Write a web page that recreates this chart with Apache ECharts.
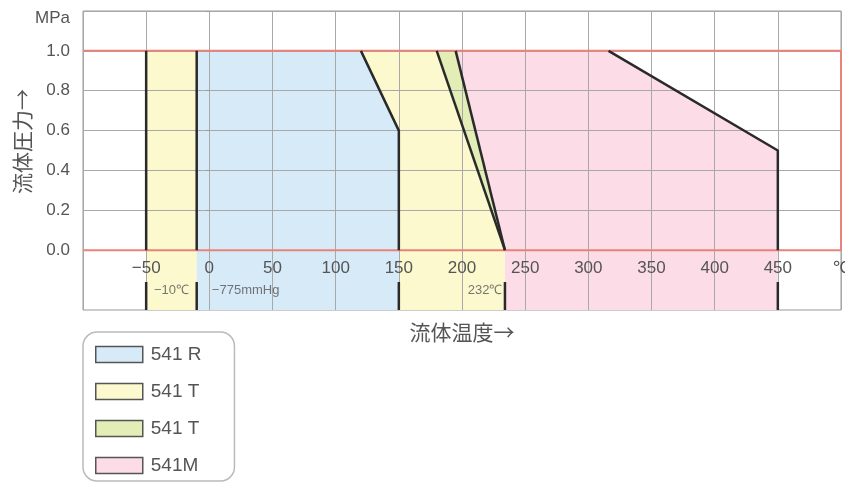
<!DOCTYPE html>
<html><head><meta charset="utf-8">
<script src="https://cdn.jsdelivr.net/npm/echarts@6/dist/echarts.min.js"></script>
<style>html,body{margin:0;padding:0;background:#fff}#c{width:845px;height:483px}</style>
</head><body><div id="c"></div>
<script>
// ---- data (temperature ℃, pressure MPa) ----
const pressureTicks = [0, 0.2, 0.4, 0.6, 0.8, 1.0, 1.2];
const tempRange = [-100, 500];
const tempStep = 50;
const legendNames = ['541 R', '541 T', '541 T (2)', '541M'];
const area541R  = [[-10, -0.3], [-10, 1.0], [120, 1.0], [150, 0.6], [150, -0.3]];
const area541T  = [[-50, -0.3], [-50, 1.0], [180, 1.0], [234, 0], [234, -0.3]];
const area541T2 = [[180, 1.0], [195, 1.0], [234, 0]];
const area541M  = [[195, 1.0], [316, 1.0], [450, 0.5], [450, -0.3], [234, -0.3], [234, 0]];
// boundary lines above 0 MPa
const edgeLines = [
  [[-50, 1.0], [-50, 0]],
  [[-10, 1.0], [-10, 0]],
  [[120, 1.0], [150, 0.6], [150, 0]],
  [[180, 1.0], [234, 0]],
  [[195, 1.0], [234, 0]],
  [[316, 1.0], [450, 0.5], [450, 0]]
];
// temperature limit marks below the axis labels
const limitTemps = [-50, -10, 150, 234, 450];
const markRange = [-0.16, -0.3];
const limitFrame = [[-100, 1.0], [500, 1.0], [500, 0], [-100, 0]];
const annotations = [
  { text: '−10℃', at: [-30, -0.2], align: 'center' },
  { text: '−775mmHg', at: [2, -0.2], align: 'left' },
  { text: '232℃', at: [232, -0.2], align: 'right' }
];

const chart = echarts.init(document.getElementById('c'));
const textColor = '#555';
const cjk = '"Noto Sans CJK JP", "Noto Sans", sans-serif';
const latin = '"Liberation Sans", Arial, sans-serif';

function polygonSeries(name, pts, color) {
  return {
    type: 'custom', name: name, z: 2, data: pts, encode: { x: 0, y: 1 },
    itemStyle: { color: color, borderColor: '#555', borderWidth: 1.5 },
    renderItem: function (params, api) {
      if (params.dataIndex !== 0) return;
      return {
        type: 'polygon',
        shape: { points: pts.map(function (p) { return api.coord(p); }) },
        style: { fill: color }
      };
    }
  };
}

const series = [
  polygonSeries(legendNames[1], area541T, '#fcf9cf'),
  polygonSeries(legendNames[0], area541R, '#d7eaf8'),
  polygonSeries(legendNames[2], area541T2, '#e3edb6'),
  polygonSeries(legendNames[3], area541M, '#fbdce7')
];
const blackLine = { color: '#2a2a2a', width: 2.5 };
edgeLines.forEach(function (ln) {
  series.push({ type: 'line', data: ln, z: 6, symbol: 'none', silent: true, lineStyle: blackLine });
});
limitTemps.forEach(function (t) {
  series.push({ type: 'line', data: [[t, markRange[0]], [t, markRange[1]]], z: 6, symbol: 'none',
    silent: true, lineStyle: blackLine });
});
series.push({ type: 'line', data: limitFrame, z: 5, symbol: 'none', silent: true,
  lineStyle: { color: '#e8837a', width: 2 } });
series.push({
  type: 'scatter', z: 7, symbolSize: 0, silent: true,
  data: annotations.map(function (a) {
    return { value: a.at, label: { formatter: a.text, align: a.align } };
  }),
  label: { show: true, position: 'inside', color: textColor, fontSize: 13, fontFamily: latin }
});

chart.setOption({
  backgroundColor: '#fff',
  animation: false,
  grid: { left: 83, right: 4, top: 11, bottom: 173, show: true, borderColor: '#999', borderWidth: 1,
          outerBoundsMode: 'none', containLabel: false },
  xAxis: {
    type: 'value', min: tempRange[0], max: tempRange[1], interval: tempStep, z: 3,
    position: 'bottom', offset: -60,
    axisLine: { show: false, onZero: false },
    axisTick: { show: false },
    splitLine: { show: true, lineStyle: { color: '#a8a8a8', width: 1 } },
    axisLabel: {
      margin: 10, color: textColor, fontSize: 17, fontFamily: latin,
      formatter: function (v) {
        if (v === tempRange[0]) return '';
        if (v === tempRange[1]) return '℃';
        return v < 0 ? '−' + (-v) : String(v);
      }
    },
    name: '流体温度→', nameLocation: 'middle', nameGap: 72,
    nameTextStyle: { color: textColor, fontSize: 21, fontFamily: cjk }
  },
  yAxis: {
    type: 'value', min: -0.3, max: 1.2, z: 3,
    axisLine: { show: false },
    axisTick: { show: true, length: 3, customValues: pressureTicks, lineStyle: { color: '#999' } },
    splitLine: { show: true, lineStyle: { color: '#a8a8a8', width: 1 } },
    axisLabel: {
      customValues: pressureTicks, margin: 13, color: textColor, fontSize: 17, fontFamily: latin,
      formatter: function (v) { return v >= 1.19 ? '{u|MPa}' : v.toFixed(1); },
      rich: { u: { padding: [15, 0, 0, 0], fontSize: 17, color: textColor, fontFamily: latin } }
    },
    name: '流体圧力→', nameLocation: 'middle', nameRotate: 90, nameGap: 50, nameMoveOverlap: false,
    nameTextStyle: { color: textColor, fontSize: 21, fontFamily: cjk, padding: [0, 0, 0, 38] }
  },
  legend: {
    left: 83, top: 332, height: 200, orient: 'vertical', selectedMode: false,
    data: [legendNames[0], legendNames[1], legendNames[2], legendNames[3]],
    icon: 'rect', itemWidth: 47, itemHeight: 16, itemGap: 18,
    padding: [13, 33, 6, 12],
    borderColor: '#bbb', borderWidth: 1.5, borderRadius: 14,
    itemStyle: { borderColor: '#555', borderWidth: 1.5 },
    formatter: function (n) { return n.replace(' (2)', ''); },
    textStyle: { color: textColor, fontSize: 19, fontFamily: latin, padding: [0, 0, 0, 3] }
  },
  series: series
});
</script></body></html>
